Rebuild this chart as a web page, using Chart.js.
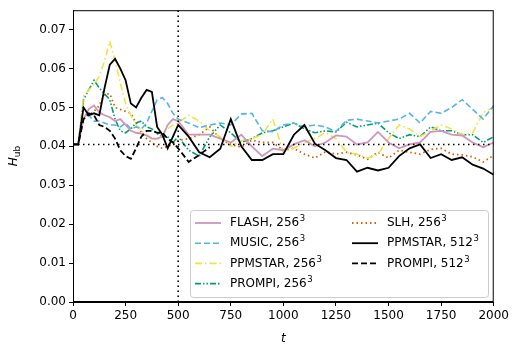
<!DOCTYPE html>
<html>
<head>
<meta charset="utf-8">
<script src="https://cdn.jsdelivr.net/npm/chart.js@4.4.1/dist/chart.umd.min.js"></script>
<style>
  html, body { margin: 0; padding: 0; background: #fff; }
  #grafico { width: 512px; height: 345px; }
</style>
</head>
<body>
<div id="grafico"><canvas id="lienzo" width="512" height="345"></canvas></div>
<script>
// Tiempos de muestreo (paso 25 hasta t=500, luego paso 50)
const tiempo = [0, 25, 50, 75, 100, 125, 150, 175, 200, 225, 250, 275, 300, 325, 350, 375, 400, 425, 450, 475, 500,
  550, 600, 650, 700, 750, 800, 850, 900, 950, 1000, 1050, 1100, 1150, 1200, 1250, 1300, 1350, 1400, 1450,
  1500, 1550, 1600, 1650, 1700, 1750, 1800, 1850, 1900, 1950, 2000];

// Series H_ub
const flash256 = [0.0405, 0.0405, 0.047, 0.0496, 0.0505, 0.0487, 0.048, 0.0475, 0.0465, 0.047, 0.0455, 0.044, 0.0435, 0.0433, 0.0428, 0.042, 0.042, 0.0425, 0.0455, 0.047, 0.0465,
  0.043, 0.043, 0.043, 0.042, 0.041, 0.043, 0.040, 0.0375, 0.0394, 0.039, 0.0405, 0.0416, 0.040, 0.041, 0.0428, 0.0425, 0.0405, 0.041, 0.0437,
  0.041, 0.0395, 0.0405, 0.041, 0.0437, 0.044, 0.043, 0.0428, 0.041, 0.0398, 0.041];
const music256 = [0.0405, 0.0405, 0.047, 0.048, 0.0465, 0.0465, 0.046, 0.0455, 0.0455, 0.045, 0.046, 0.0445, 0.045, 0.0445, 0.046, 0.049, 0.052, 0.0525, 0.051, 0.0485, 0.047,
  0.046, 0.0448, 0.0455, 0.046, 0.0455, 0.0483, 0.0485, 0.044, 0.0438, 0.0455, 0.046, 0.045, 0.0455, 0.045, 0.0438, 0.0467, 0.047, 0.0465, 0.046,
  0.0465, 0.047, 0.0485, 0.046, 0.049, 0.0485, 0.050, 0.052, 0.0495, 0.047, 0.0505];
const ppmstar256 = [0.0405, 0.0405, 0.053, 0.0545, 0.056, 0.058, 0.062, 0.067, 0.062, 0.0563, 0.051, 0.048, 0.0455, 0.044, 0.043, 0.042, 0.0415, 0.043, 0.0445, 0.0455, 0.046,
  0.048, 0.0465, 0.044, 0.0425, 0.040, 0.0415, 0.042, 0.043, 0.047, 0.0385, 0.0395, 0.041, 0.042, 0.0435, 0.042, 0.0385, 0.038, 0.037, 0.038,
  0.042, 0.0455, 0.0445, 0.0425, 0.044, 0.0455, 0.0445, 0.043, 0.0435, 0.0487, 0.050];
const prompi256 = [0.0405, 0.0405, 0.052, 0.0545, 0.057, 0.055, 0.0535, 0.052, 0.047, 0.044, 0.0435, 0.0445, 0.046, 0.0465, 0.045, 0.0445, 0.0433, 0.0425, 0.0425, 0.041, 0.0425,
  0.039, 0.0375, 0.0425, 0.0455, 0.0435, 0.041, 0.042, 0.0435, 0.044, 0.045, 0.046, 0.0445, 0.0435, 0.044, 0.0437, 0.0462, 0.045, 0.0455, 0.046,
  0.0435, 0.042, 0.043, 0.0425, 0.045, 0.044, 0.044, 0.043, 0.043, 0.041, 0.0425];
const slh256 = [0.0405, 0.0405, 0.047, 0.048, 0.049, 0.0505, 0.0535, 0.0535, 0.050, 0.0495, 0.049, 0.0485, 0.046, 0.0435, 0.042, 0.041, 0.040, 0.0395, 0.040, 0.0405, 0.0415,
  0.042, 0.043, 0.045, 0.042, 0.0405, 0.0398, 0.0416, 0.041, 0.041, 0.039, 0.0395, 0.038, 0.037, 0.0386, 0.038, 0.0385, 0.0378, 0.0367, 0.0385,
  0.037, 0.039, 0.0385, 0.038, 0.0392, 0.0395, 0.038, 0.0378, 0.0373, 0.036, 0.0377];
const ppmstar512 = [0.0405, 0.0405, 0.050, 0.048, 0.0485, 0.048, 0.055, 0.061, 0.0625, 0.060, 0.057, 0.051, 0.050, 0.0525, 0.0545, 0.054, 0.045, 0.043, 0.0395, 0.0425, 0.0455,
  0.0425, 0.0385, 0.0372, 0.0394, 0.047, 0.040, 0.0365, 0.0365, 0.038, 0.038, 0.043, 0.0455, 0.0407, 0.039, 0.037, 0.0365, 0.0335, 0.0345, 0.0338,
  0.0345, 0.0375, 0.0395, 0.0405, 0.037, 0.038, 0.0365, 0.0372, 0.0353, 0.0343, 0.0327];
// PROMPI 512^3 solo llega hasta t=650
const prompi512 = [0.0405, 0.0405, 0.047, 0.0485, 0.048, 0.0455, 0.045, 0.044, 0.042, 0.039, 0.0375, 0.0368, 0.0395, 0.0425, 0.044, 0.044, 0.0435, 0.0435, 0.042, 0.041, 0.0395,
  0.036, 0.0378, 0.0398];

// Líneas de referencia
const hRef = 0.0405;
const tRef = 500;

// Ticks de los ejes
const ticksX = [0, 250, 500, 750, 1000, 1250, 1500, 1750, 2000];
const ticksY = [0, 0.01, 0.02, 0.03, 0.04, 0.05, 0.06, 0.07];

const etiquetas = ['FLASH, 256', 'MUSIC, 256', 'PPMSTAR, 256', 'PROMPI, 256', 'SLH, 256', 'PPMSTAR, 512', 'PROMPI, 512'];
const series = [flash256, music256, ppmstar256, prompi256, slh256, ppmstar512, prompi512];
const colores = ['#cf95bd', '#56b4e9', '#f0e442', '#009e73', '#d55e00', '#000000', '#000000'];
const trazos = [[], [6, 3], [7, 3, 1.5, 3], [6, 2, 1.5, 2, 1.5, 2], [1.5, 3], [], [6, 3]];
const grosores = [1.8, 1.6, 1.6, 1.6, 1.8, 1.8, 1.8];

const fuente = 'DejaVu Sans';

// Construye los puntos {x, y} a partir de los arrays
function puntos(valores) {
    return valores.map((v, i) => ({ x: tiempo[i], y: v }));
}

const datasets = series.map((s, i) => ({
    label: etiquetas[i],
    data: puntos(s),
    borderColor: colores[i],
    borderDash: trazos[i],
    borderWidth: grosores[i],
    pointRadius: 0,
    tension: 0,
    fill: false,
    order: (i >= 5) ? 1 : 2
}));

// Línea horizontal punteada y línea vertical en t=500
datasets.push({
    label: 'ref-h',
    data: [{ x: 0, y: hRef }, { x: 2000, y: hRef }],
    borderColor: '#000', borderDash: [1.5, 3.5], borderWidth: 1.6, pointRadius: 0, order: 0
});
datasets.push({
    label: 'ref-v',
    data: [{ x: tRef, y: 0 }, { x: tRef, y: 0.075 }],
    borderColor: '#000', borderDash: [1.5, 3.5], borderWidth: 1.6, pointRadius: 0, order: 0
});

// Plugin: marco, títulos de ejes y leyenda dentro del gráfico
const extras = {
    id: 'extras',
    afterDraw(chart) {
        const ctx = chart.ctx;
        const a = chart.chartArea;
        ctx.save();

        // Marco completo
        ctx.strokeStyle = '#000';
        ctx.lineWidth = 1;
        ctx.strokeRect(a.left + 0.5, a.top + 0.5, a.right - a.left - 1, a.bottom - a.top - 1);

        // Título eje x
        ctx.fillStyle = '#000';
        ctx.font = 'italic 12px "' + fuente + '"';
        ctx.textAlign = 'center';
        ctx.textBaseline = 'alphabetic';
        ctx.fillText('t', (a.left + a.right) / 2, 342);

        // Título eje y: H con subíndice ub
        ctx.translate(17, (a.top + a.bottom) / 2);
        ctx.rotate(-Math.PI / 2);
        ctx.textAlign = 'left';
        ctx.font = 'italic 12px "' + fuente + '"';
        const wH = ctx.measureText('H').width;
        ctx.font = '9px "' + fuente + '"';
        const wSub = ctx.measureText('ub').width;
        const x0 = -(wH + wSub) / 2;
        ctx.font = 'italic 12px "' + fuente + '"';
        ctx.fillText('H', x0, 0);
        ctx.font = '9px "' + fuente + '"';
        ctx.fillText('ub', x0 + wH, 3);
        ctx.restore();

        // Leyenda
        ctx.save();
        const bx = 190, by = 210, bw = 298, bh = 87;
        ctx.fillStyle = 'rgba(255,255,255,0.85)';
        ctx.strokeStyle = '#cccccc';
        ctx.lineWidth = 1;
        ctx.beginPath();
        ctx.roundRect(bx + 0.5, by + 0.5, bw, bh, 3);
        ctx.fill();
        ctx.stroke();

        ctx.textBaseline = 'middle';
        ctx.textAlign = 'left';
        etiquetas.forEach((txt, i) => {
            const col = i < 4 ? 0 : 1;
            const fila = i < 4 ? i : i - 4;
            const lx = col === 0 ? 195 : 352;
            const ly = 223 + fila * 20.2;
            ctx.strokeStyle = colores[i];
            ctx.lineWidth = grosores[i];
            ctx.setLineDash(trazos[i]);
            ctx.beginPath();
            ctx.moveTo(lx, ly);
            ctx.lineTo(lx + 26, ly);
            ctx.stroke();
            ctx.setLineDash([]);
            ctx.fillStyle = '#000';
            ctx.font = '12px "' + fuente + '"';
            const tx = lx + 35;
            ctx.fillText(txt, tx, ly);
            const w = ctx.measureText(txt).width;
            ctx.font = '8.5px "' + fuente + '"';
            ctx.fillText('3', tx + w + 0.5, ly - 4);
        });
        ctx.restore();
    }
};

const ctx = document.getElementById('lienzo').getContext('2d');
new Chart(ctx, {
    type: 'line',
    data: { datasets: datasets },
    options: {
        responsive: false,
        animation: false,
        layout: { padding: { top: 7, right: 18, left: 0, bottom: 0 } },
        plugins: {
            legend: { display: false },
            tooltip: { enabled: false }
        },
        scales: {
            x: {
                type: 'linear',
                min: 0,
                max: 2000,
                afterBuildTicks: s => { s.ticks = ticksX.map(v => ({ value: v })); },
                afterFit: s => { s.height = 43; },
                ticks: {
                    color: '#000',
                    font: { family: fuente, size: 12 },
                    maxRotation: 0,
                    autoSkip: false,
                    padding: 3,
                    callback: v => String(v)
                },
                grid: { drawOnChartArea: false, drawTicks: true, tickLength: 4, color: '#000' },
                border: { display: true, color: '#000', width: 1 }
            },
            y: {
                type: 'linear',
                min: 0,
                max: 0.075,
                afterBuildTicks: s => { s.ticks = ticksY.map(v => ({ value: v })); },
                afterFit: s => { s.width = 73; },
                ticks: {
                    color: '#000',
                    font: { family: fuente, size: 12 },
                    autoSkip: false,
                    padding: 3,
                    callback: v => v.toFixed(2)
                },
                grid: { drawOnChartArea: false, drawTicks: true, tickLength: 4, color: '#000' },
                border: { display: true, color: '#000', width: 1 }
            }
        }
    },
    plugins: [extras]
});
</script>
</body>
</html>
